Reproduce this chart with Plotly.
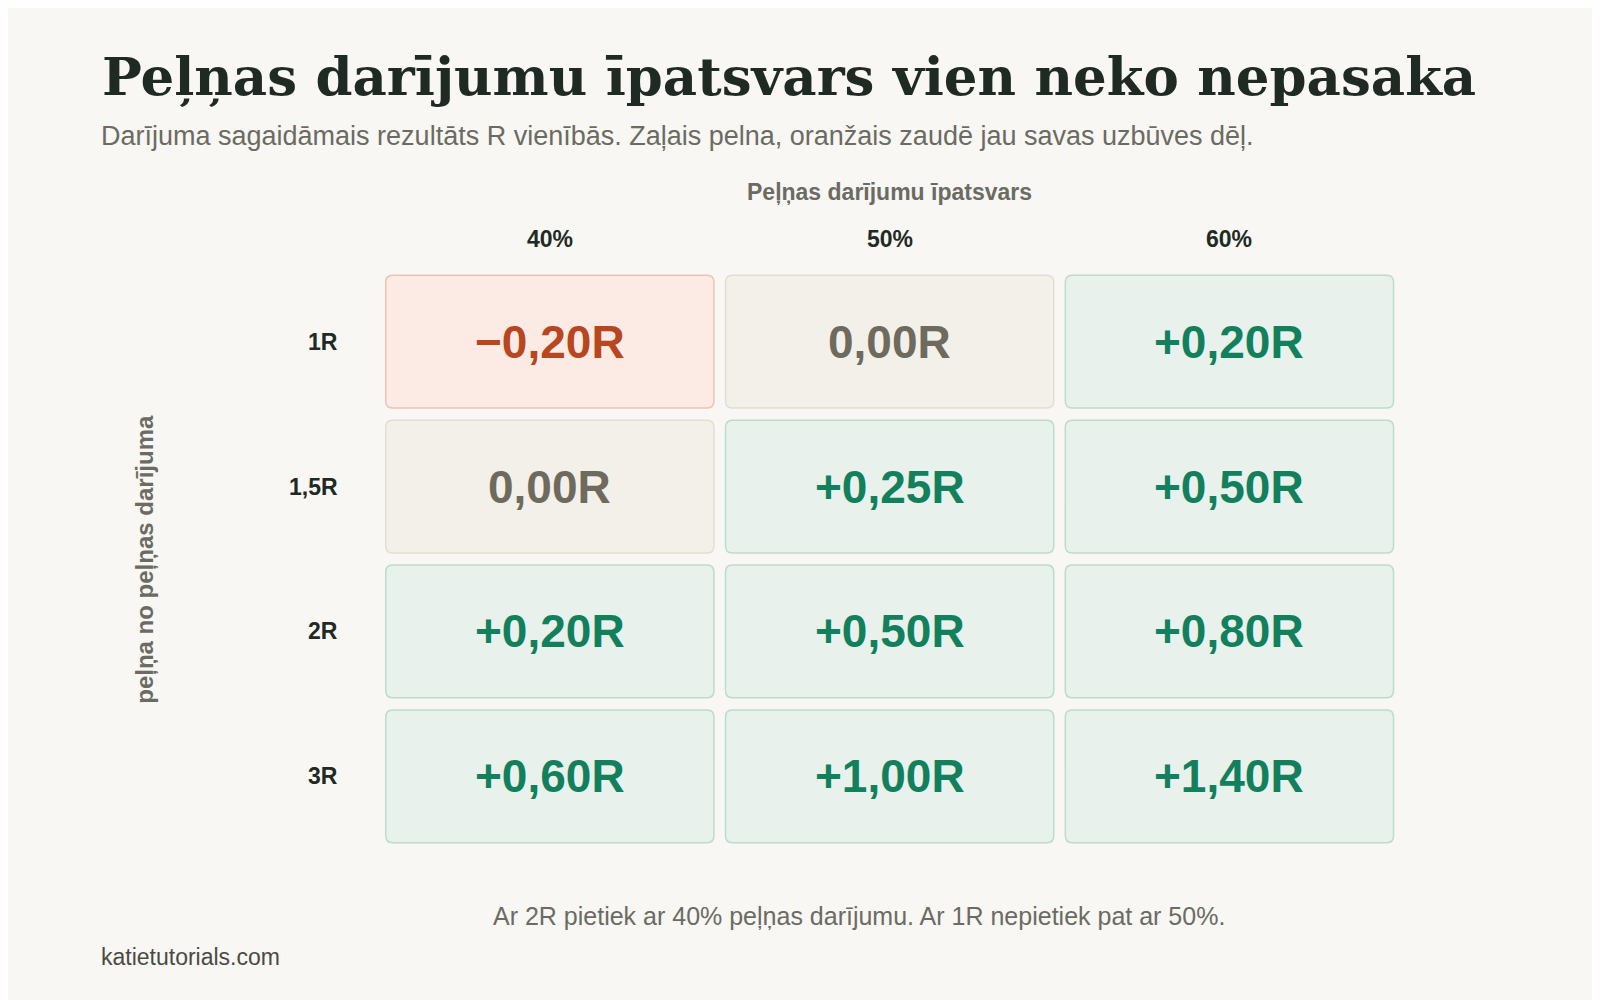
import plotly.graph_objects as go

win_rates = ["40%", "50%", "60%"]
rewards = ["1R", "1,5R", "2R", "3R"]
expectancy = [
    [-0.20, 0.00, 0.20],
    [0.00, 0.25, 0.50],
    [0.20, 0.50, 0.80],
    [0.60, 1.00, 1.40],
]

BG = "#f8f7f3"
STYLE = {
    "neg": ("#fcebe4", "#ebc4b2", "#b8461f"),
    "zero": ("#f3f0ea", "#e2ded5", "#6e6b5e"),
    "pos": ("#e8f1ec", "#bcdccd", "#12805c"),
}


# convert positions measured on the screenshot to paper fractions
def px(x):
    return (x - 8) / 0.98 / 1600


def py(y):
    return 1 - (y - 8) / 0.98 / 1000


def fmt(v):
    s = f"{abs(v):.2f}R".replace(".", ",")
    if v > 0:
        return "+" + s
    if v < 0:
        return "\u2212" + s
    return s


def rounded(x0, x1, y0, y1, rx, ry):
    return (f"M{x0+rx},{y0} L{x1-rx},{y0} Q{x1},{y0} {x1},{y0+ry} "
            f"L{x1},{y1-ry} Q{x1},{y1} {x1-rx},{y1} L{x0+rx},{y1} "
            f"Q{x0},{y1} {x0},{y1-ry} L{x0},{y0+ry} Q{x0},{y0} {x0+rx},{y0} Z")


fig = go.Figure()
shapes = []
annotations = []
hw, hh = 0.483, 0.458
for r, row in enumerate(expectancy):
    for c, v in enumerate(row):
        key = "neg" if v < 0 else ("zero" if v == 0 else "pos")
        fill, line, txt = STYLE[key]
        shapes.append(dict(type="path", xref="x", yref="y",
                           path=rounded(c - hw, c + hw, r - hh, r + hh, 0.02, 0.05),
                           fillcolor=fill, line=dict(color=line, width=1.5), layer="below"))
        annotations.append(dict(x=c, y=r, xref="x", yref="y", text=fmt(v), showarrow=False,
                                font=dict(family="Liberation Sans", size=46, color=txt, weight="bold")))

for c, w in enumerate(win_rates):
    annotations.append(dict(x=c, y=py(234), xref="x", yref="paper", yanchor="middle", text=w,
                            showarrow=False,
                            font=dict(family="Liberation Sans", size=23, color="#1f2a24", weight="bold")))
for r, lab in enumerate(rewards):
    annotations.append(dict(x=px(333), y=r, xref="paper", yref="y", text=lab, showarrow=False,
                            xanchor="right",
                            font=dict(family="Liberation Sans", size=23, color="#1f2a24", weight="bold")))

annotations += [
    dict(x=px(98), y=py(75), xref="paper", yref="paper", xanchor="left", yanchor="middle",
         showarrow=False, text="Peļņas darījumu īpatsvars vien neko nepasaka",
         font=dict(family="DejaVu Serif", size=53, color="#1f2a24", weight="bold")),
    dict(x=px(97), y=py(133), xref="paper", yref="paper", xanchor="left", yanchor="middle",
         showarrow=False,
         text="Darījuma sagaidāmais rezultāts R vienībās. Zaļais pelna, oranžais zaudē jau savas uzbūves dēļ.",
         font=dict(family="Liberation Sans", size=27, color="#6b6b63")),
    dict(x=px(872), y=py(188), xref="paper", yref="paper", yanchor="middle", showarrow=False,
         text="Peļņas darījumu īpatsvars",
         font=dict(family="Liberation Sans", size=23, color="#6b6b63", weight="bold")),
    dict(x=px(141), y=py(548), xref="paper", yref="paper", xanchor="center", yanchor="middle",
         showarrow=False, textangle=-90, text="peļņa no peļņas darījuma",
         font=dict(family="Liberation Sans", size=24, color="#6b6b63", weight="bold")),
    dict(x=px(842), y=py(898), xref="paper", yref="paper", yanchor="middle", showarrow=False,
         text="Ar 2R pietiek ar 40% peļņas darījumu. Ar 1R nepietiek pat ar 50%.",
         font=dict(family="Liberation Sans", size=25, color="#6b6b63")),
    dict(x=px(97), y=py(938), xref="paper", yref="paper", xanchor="left", yanchor="middle",
         showarrow=False, text="katietutorials.com",
         font=dict(family="Liberation Sans", size=23, color="#4a4a44")),
]

fig.add_trace(go.Scatter(x=[0, 1, 2], y=[0, 1, 2], mode="markers",
                         marker=dict(opacity=0), hoverinfo="skip", showlegend=False))

fig.update_layout(
    width=1600, height=1000,
    paper_bgcolor=BG, plot_bgcolor=BG,
    margin=dict(l=0, r=0, t=0, b=0),
    shapes=shapes, annotations=annotations,
    xaxis=dict(range=[-0.5, 2.5], domain=[px(372.5), px(1371.5)], visible=False, fixedrange=True),
    yaxis=dict(range=[3.5, -0.5], domain=[py(832), py(264)], visible=False, fixedrange=True),
)

fig.write_html("out.html")
